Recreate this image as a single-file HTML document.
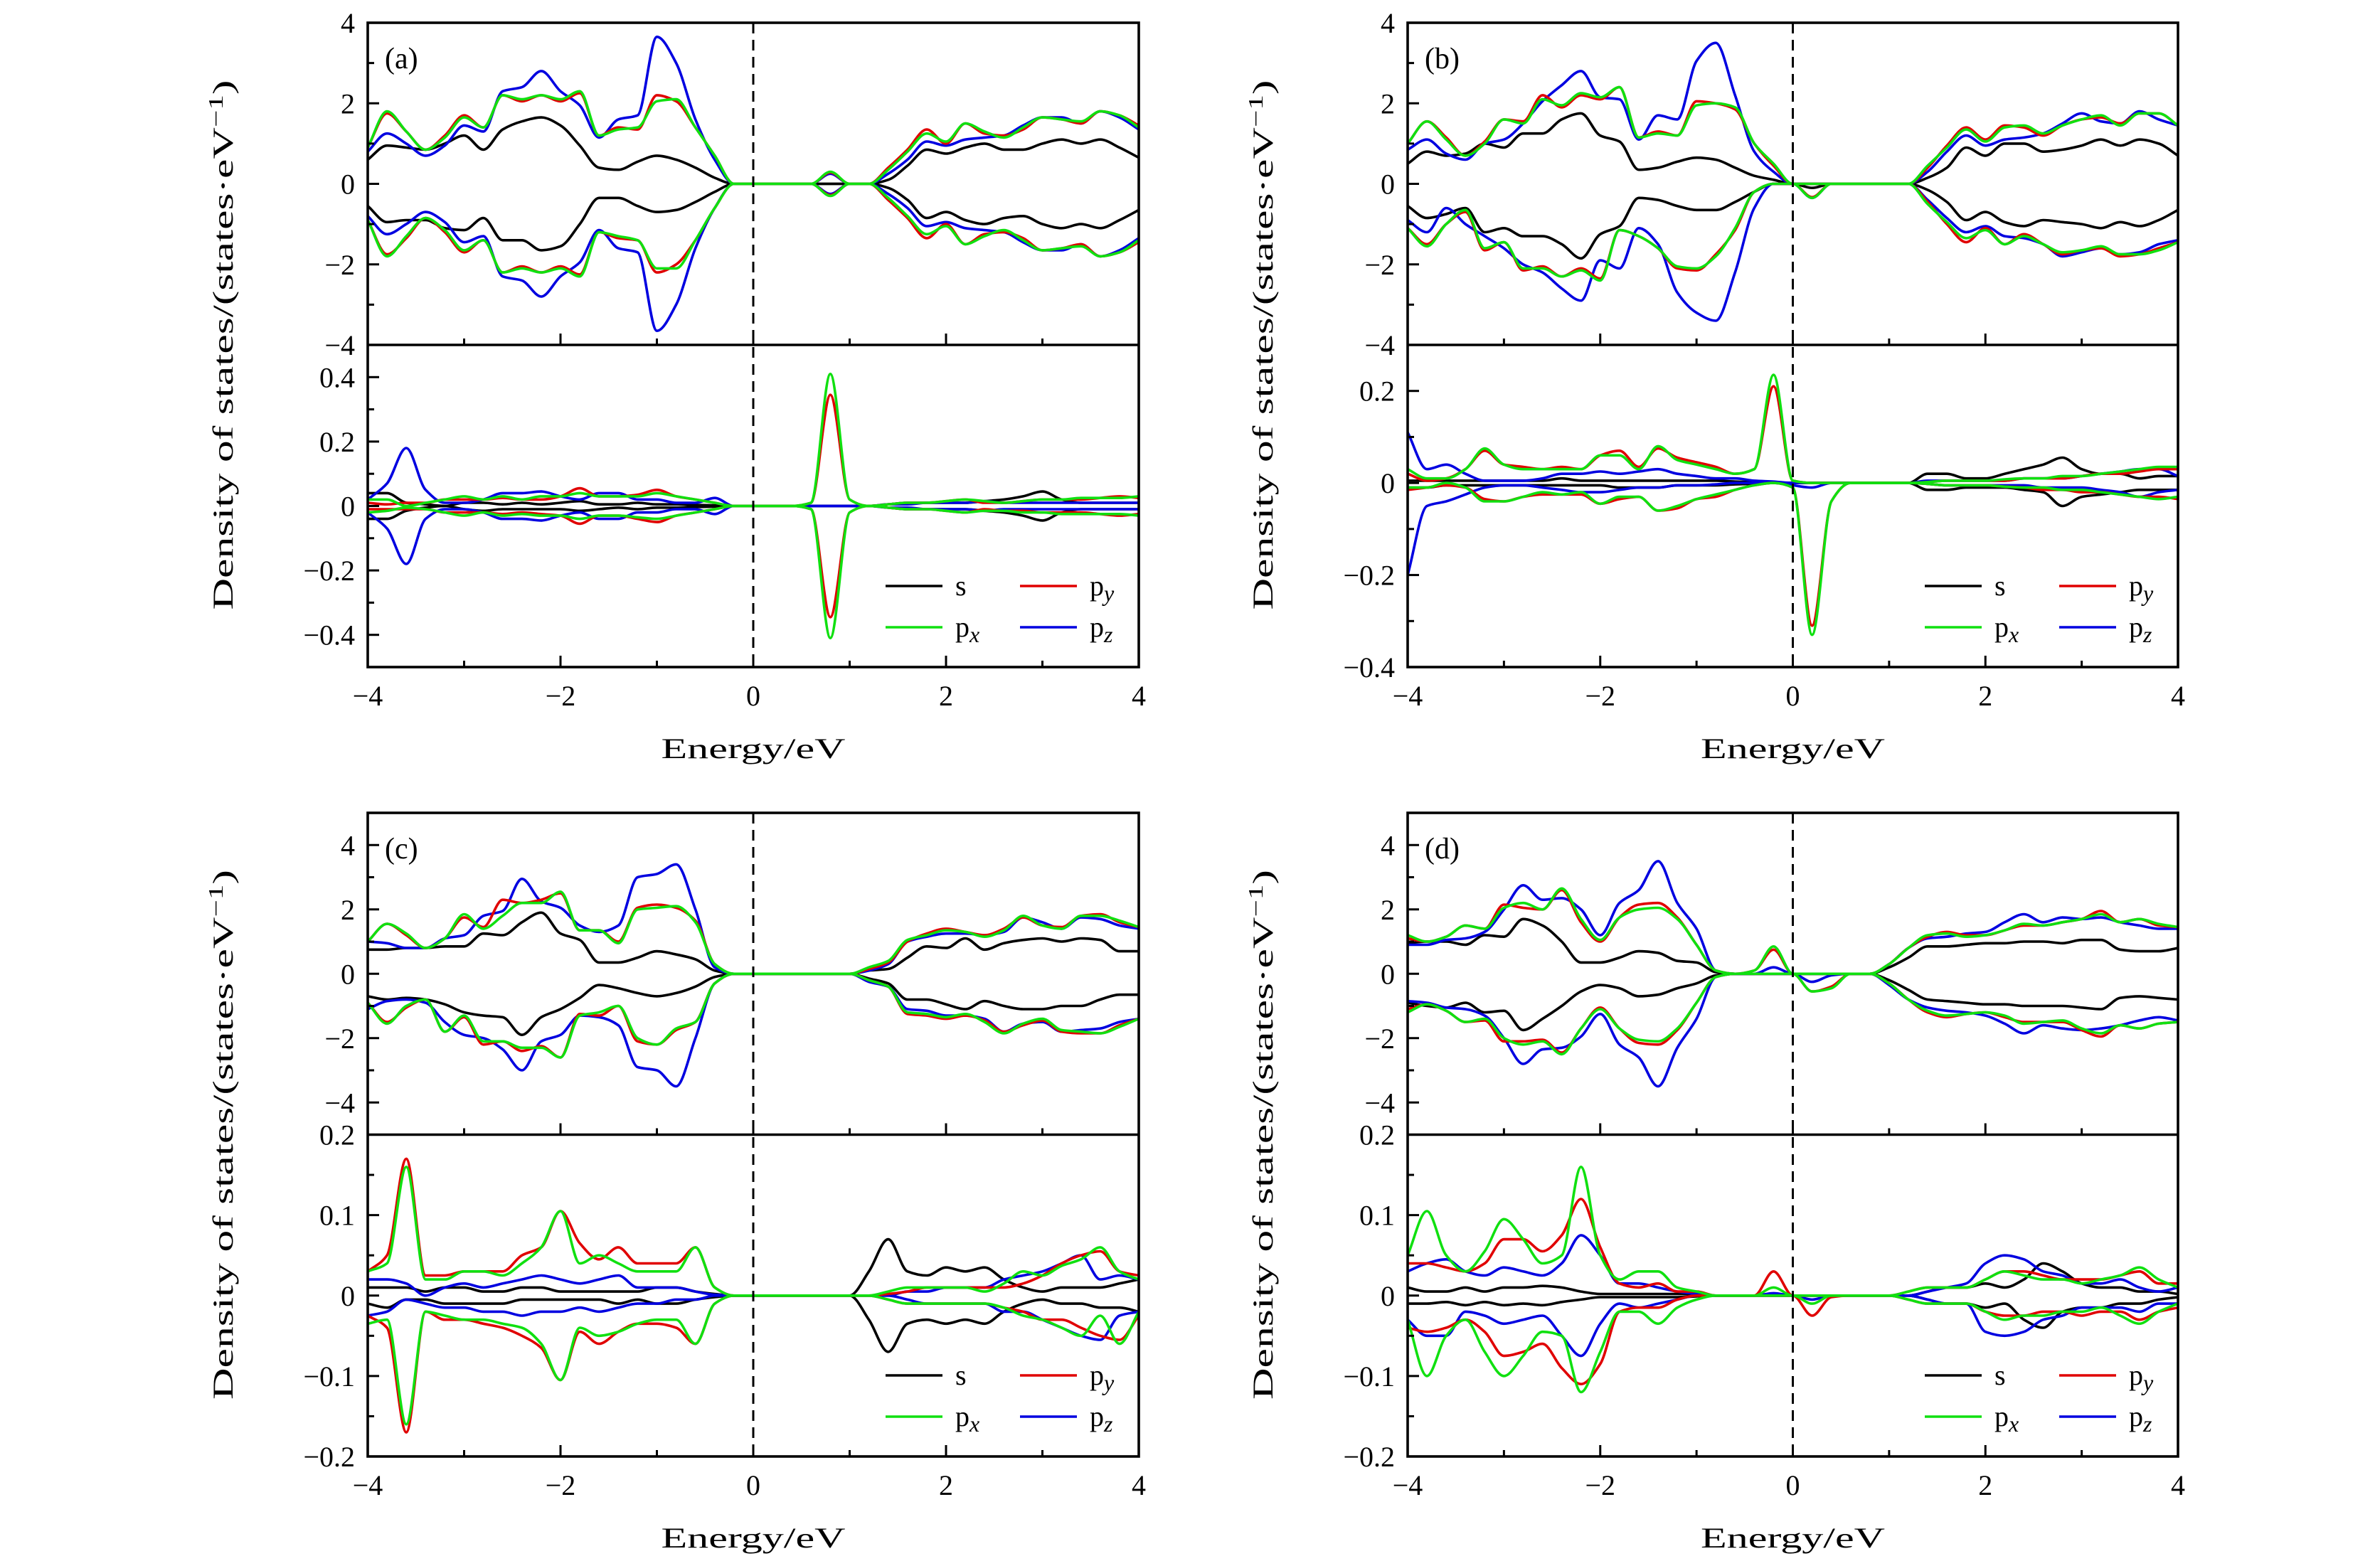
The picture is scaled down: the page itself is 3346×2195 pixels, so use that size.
<!DOCTYPE html>
<html><head><meta charset="utf-8"><style>
html,body{margin:0;padding:0;background:#fff}
svg{display:block}
text{font-family:"Liberation Serif",serif;fill:#000}
</style></head><body>
<svg id="chart" width="3346" height="2195" viewBox="0 0 3346 2195" xmlns="http://www.w3.org/2000/svg"></svg>
<script>
// energy grid (eV)
const energies = [-4,-3.8,-3.6,-3.4,-3.2,-3,-2.8,-2.6,-2.4,-2.2,-2,-1.8,-1.6,-1.4,-1.2,-1,-0.8,-0.6,-0.4,-0.2,0,0.2,0.4,0.6,0.8,1,1.2,1.4,1.6,1.8,2,2.2,2.4,2.6,2.8,3,3.2,3.4,3.6,3.8,4];
const xTickValues = [-4,-2,0,2,4];
const xTickLabels = ["−4","−2","0","2","4"];
const seriesNames = ["s","py","px","pz"];

// ---- panel (a) top ----
const aTopSUp  = [0.6,0.95,0.9,0.85,1.0,1.2,0.85,1.35,1.55,1.65, 1.45,0.95,0.4,0.35,0.55,0.7,0.6,0.4,0.15,0, 0, 0,0,0,0,0,0,0.1,0.45,0.85,0.75, 0.9,1.0,0.85,0.85,1.0,1.1,1.0,1.1,0.9,0.65];
const aTopPxUp = [0.9,1.8,1.3,0.85,1.15,1.65,1.4,2.2,2.1,2.2, 2.1,2.3,1.2,1.35,1.4,2.05,2.1,1.4,0.7,0, 0, 0,0,0,0.3,0,0,0.35,0.8,1.25,1.05, 1.5,1.3,1.15,1.4,1.65,1.6,1.55,1.8,1.7,1.4];
const aTopPyUp = [0.9,1.75,1.3,0.85,1.2,1.7,1.4,2.2,2.05,2.2, 2.05,2.25,1.2,1.4,1.35,2.2,2.05,1.4,0.7,0, 0, 0,0,0,0.28,0,0,0.4,0.85,1.35,1.0, 1.5,1.25,1.2,1.35,1.65,1.6,1.5,1.8,1.7,1.45];
const aTopPzUp = [0.8,1.25,1.0,0.7,0.95,1.45,1.3,2.3,2.4,2.8, 2.3,1.95,1.15,1.6,1.7,3.65,3.0,1.6,0.6,0, 0, 0,0,0,0.25,0,0,0.25,0.6,1.05,0.95, 1.1,1.15,1.2,1.45,1.65,1.65,1.5,1.8,1.65,1.35];
const aTopSDn  = [-0.55,-0.95,-0.9,-0.9,-1.1,-1.15,-0.85,-1.4,-1.4,-1.65, -1.55,-1.0,-0.35,-0.35,-0.55,-0.7,-0.65,-0.45,-0.2,0, 0, 0,0,0,0,0,0,-0.1,-0.4,-0.85,-0.7, -0.9,-1.0,-0.85,-0.8,-1.0,-1.1,-1.0,-1.1,-0.9,-0.65];
const aTopPxDn = [-0.9,-1.8,-1.3,-0.85,-1.15,-1.65,-1.4,-2.2,-2.1,-2.2, -2.1,-2.3,-1.2,-1.3,-1.4,-2.1,-2.1,-1.4,-0.6,0, 0, 0,0,0,-0.3,0,0,-0.35,-0.8,-1.25,-1.05, -1.5,-1.3,-1.15,-1.4,-1.65,-1.6,-1.55,-1.8,-1.7,-1.4];
const aTopPyDn = [-0.9,-1.75,-1.35,-0.85,-1.2,-1.7,-1.4,-2.2,-2.05,-2.2, -2.05,-2.25,-1.2,-1.35,-1.4,-2.2,-2.0,-1.4,-0.6,0, 0, 0,0,0,-0.28,0,0,-0.4,-0.85,-1.35,-1.0, -1.5,-1.25,-1.2,-1.35,-1.65,-1.6,-1.5,-1.8,-1.7,-1.45];
const aTopPzDn = [-0.8,-1.25,-1.0,-0.7,-0.95,-1.45,-1.3,-2.3,-2.4,-2.8, -2.3,-1.95,-1.15,-1.6,-1.7,-3.65,-3.0,-1.6,-0.6,0, 0, 0,0,0,-0.25,0,0,-0.25,-0.6,-1.05,-0.95, -1.1,-1.15,-1.2,-1.45,-1.65,-1.65,-1.5,-1.8,-1.65,-1.35];
// ---- panel (a) bottom ----
const aBotSUp  = [0.04,0.04,0.01,0.005,0,0.01,0.01,0.005,0.01,0.005, 0.01,0.015,0.005,0.005,0.01,0.005,0.005,0.003,0.002,0, 0, 0,0,0,0,0,0,0.005,0.01,0.01,0.01, 0.01,0.015,0.02,0.03,0.045,0.02,0.01,0.01,0.01,0.01];
const aBotPxUp = [0.02,0.02,0,0.01,0.02,0.03,0.02,0.03,0.02,0.03, 0.03,0.04,0.03,0.03,0.03,0.04,0.03,0.02,0.01,0, 0, 0,0,0.01,0.41,0.02,0,0.005,0.01,0.01,0.015, 0.02,0.015,0.01,0.015,0.02,0.02,0.025,0.025,0.025,0.03];
const aBotPyUp = [0.01,0.005,0.01,0.01,0.02,0.02,0.02,0.025,0.02,0.02, 0.03,0.055,0.03,0.03,0.035,0.05,0.03,0.02,0.01,0, 0, 0,0,0.01,0.345,0.02,0,0.005,0.01,0.01,0.015, 0.02,0.01,0.01,0.015,0.02,0.02,0.02,0.025,0.03,0.025];
const aBotPzUp = [0.02,0.07,0.18,0.05,0.01,0.01,0.02,0.04,0.04,0.045, 0.03,0.02,0.04,0.04,0.02,0.02,0.01,0.01,0.025,0, 0, 0,0,0,0,0,0,0.005,0.005,0.01,0.01, 0.01,0.015,0.01,0.01,0.01,0.01,0.01,0.01,0.01,0.01];
const aBotSDn  = [-0.04,-0.04,-0.015,-0.005,0,-0.01,-0.015,-0.01,-0.01,-0.01, -0.01,-0.015,-0.01,-0.005,-0.01,-0.005,-0.005,-0.003,-0.002,0, 0, 0,0,0,0,0,0,-0.005,-0.01,-0.01,-0.01, -0.01,-0.015,-0.02,-0.03,-0.045,-0.02,-0.01,-0.01,-0.01,-0.01];
const aBotPxDn = [-0.02,-0.015,-0.005,-0.01,-0.02,-0.03,-0.02,-0.03,-0.025,-0.03, -0.03,-0.04,-0.03,-0.03,-0.035,-0.04,-0.03,-0.02,-0.01,0, 0, 0,0,-0.01,-0.41,-0.02,0,-0.005,-0.01,-0.01,-0.015, -0.02,-0.015,-0.015,-0.02,-0.02,-0.025,-0.025,-0.025,-0.025,-0.03];
const aBotPyDn = [-0.01,-0.01,-0.01,-0.01,-0.02,-0.02,-0.02,-0.025,-0.02,-0.025, -0.03,-0.055,-0.03,-0.03,-0.04,-0.05,-0.03,-0.02,-0.01,0, 0, 0,0,-0.01,-0.345,-0.02,0,-0.005,-0.01,-0.01,-0.015, -0.02,-0.01,-0.015,-0.015,-0.02,-0.02,-0.02,-0.025,-0.03,-0.025];
const aBotPzDn = [-0.02,-0.07,-0.18,-0.04,-0.01,-0.01,-0.02,-0.04,-0.04,-0.045, -0.03,-0.02,-0.04,-0.04,-0.02,-0.02,-0.01,-0.01,-0.025,0, 0, 0,0,0,0,0,0,-0.005,-0.005,-0.01,-0.01, -0.01,-0.015,-0.01,-0.01,-0.01,-0.01,-0.01,-0.01,-0.01,-0.01];
// ---- panel (b) top ----
const bTopSUp  = [0.5,0.8,0.7,0.75,1.0,0.9,1.25,1.25,1.6,1.75, 1.2,1.05,0.35,0.4,0.55,0.65,0.6,0.4,0.2,0.1, 0, 0,0,0,0,0,0,0.15,0.4,0.9,0.7, 1.0,1.0,0.8,0.85,0.95,1.1,0.95,1.1,1.0,0.7];
const bTopPxUp = [1.0,1.55,1.1,0.7,1.0,1.6,1.5,2.1,1.95,2.25, 2.15,2.4,1.15,1.25,1.2,1.95,2.0,1.9,1.0,0.5, 0, 0,0,0,0,0,0,0.45,0.9,1.35,1.05, 1.4,1.45,1.25,1.45,1.6,1.7,1.45,1.75,1.75,1.45];
const bTopPyUp = [1.0,1.55,1.15,0.7,1.05,1.6,1.55,2.2,1.9,2.2, 2.1,2.4,1.15,1.3,1.2,2.05,2.0,1.85,1.0,0.45, 0, 0,0,0,0,0,0,0.4,0.95,1.4,1.1, 1.45,1.4,1.2,1.45,1.6,1.65,1.5,1.75,1.75,1.45];
const bTopPzUp = [0.85,1.1,0.75,0.6,1.0,1.1,1.5,2.05,2.45,2.8, 2.15,2.1,1.1,1.7,1.6,3.05,3.5,2.2,0.8,0.3, 0, 0,0,0,0,0,0,0.3,0.8,1.2,0.95, 1.1,1.15,1.25,1.5,1.75,1.55,1.5,1.8,1.6,1.45];
const bTopSDn  = [-0.55,-0.85,-0.75,-0.6,-1.2,-1.1,-1.3,-1.3,-1.5,-1.85, -1.25,-1.05,-0.35,-0.4,-0.55,-0.65,-0.65,-0.45,-0.2,0, 0, -0.1,0,0,0,0,0,-0.15,-0.45,-0.9,-0.7, -0.95,-1.05,-0.9,-0.95,-1.0,-1.1,-0.95,-1.05,-0.9,-0.65];
const bTopPxDn = [-1.1,-1.55,-1.0,-0.65,-1.6,-1.45,-2.1,-2.1,-2.3,-2.15, -2.4,-1.15,-1.3,-1.6,-2.05,-2.1,-1.8,-1.1,-0.2,0, 0, -0.35,0,0,0,0,0,-0.5,-0.95,-1.35,-1.15, -1.5,-1.3,-1.5,-1.7,-1.65,-1.55,-1.75,-1.75,-1.65,-1.45];
const bTopPyDn = [-1.1,-1.5,-1.0,-0.7,-1.65,-1.45,-2.15,-2.05,-2.3,-2.1, -2.35,-1.15,-1.3,-1.6,-2.1,-2.15,-1.75,-1.15,-0.2,0, 0, -0.33,0,0,0,0,0,-0.45,-1.0,-1.45,-1.1, -1.5,-1.25,-1.5,-1.75,-1.65,-1.6,-1.8,-1.75,-1.6,-1.45];
const bTopPzDn = [-0.9,-1.2,-0.6,-1.0,-1.3,-1.6,-2.0,-2.2,-2.6,-2.9, -1.9,-2.1,-1.1,-1.5,-2.7,-3.2,-3.4,-2.2,-0.6,0, 0, -0.35,0,0,0,0,0,-0.4,-0.85,-1.2,-1.05, -1.3,-1.35,-1.5,-1.8,-1.7,-1.6,-1.75,-1.7,-1.5,-1.4];
// ---- panel (b) bottom ----
const bBotSUp  = [0.005,0.005,0.005,0.005,0.005,0.005,0.005,0.005,0.01,0.005, 0.005,0.005,0.005,0.005,0.005,0.005,0.005,0.003,0.002,0.001, 0, 0,0,0,0,0,0,0.02,0.02,0.01,0.01, 0.02,0.03,0.04,0.055,0.03,0.02,0.02,0.01,0.015,0.015];
const bBotPxUp = [0.03,0.01,0.01,0.03,0.075,0.04,0.03,0.03,0.03,0.03, 0.06,0.06,0.03,0.08,0.05,0.04,0.03,0.02,0.03,0.235, 0.005, 0,0,0,0,0,0,0.002,0.005,0.005,0.005, 0.008,0.01,0.01,0.015,0.015,0.02,0.025,0.03,0.035,0.035];
const bBotPyUp = [0.02,0.005,0.01,0.03,0.07,0.04,0.035,0.03,0.035,0.03, 0.06,0.07,0.035,0.075,0.055,0.045,0.035,0.02,0.03,0.21, 0.005, 0,0,0,0,0,0,0.002,0.005,0.005,0.005, 0.005,0.01,0.01,0.01,0.015,0.02,0.02,0.025,0.03,0.03];
const bBotPzUp = [0.11,0.03,0.04,0.02,0.005,0.005,0.005,0.01,0.02,0.02, 0.025,0.02,0.025,0.03,0.02,0.015,0.01,0.01,0.005,0.003, 0, 0,0,0,0,0,0,0.005,0.005,0.005,0.005, 0.005,0.01,0.01,0.01,0.015,0.02,0.025,0.03,0.03,0.015];
const bBotSDn  = [-0.01,-0.01,-0.005,-0.005,-0.005,-0.005,-0.005,-0.005,-0.005,-0.005, -0.005,-0.01,-0.01,-0.01,-0.005,-0.005,-0.005,-0.003,-0.002,0, 0, 0,0,0,0,0,0,-0.015,-0.015,-0.01,-0.01, -0.01,-0.015,-0.02,-0.05,-0.03,-0.025,-0.02,-0.015,-0.015,-0.015];
const bBotPxDn = [-0.01,-0.01,0,-0.01,-0.04,-0.04,-0.03,-0.02,-0.025,-0.02, -0.045,-0.03,-0.03,-0.06,-0.05,-0.035,-0.025,-0.015,-0.005,0, -0.01, -0.33,-0.04,0,0,0,0,-0.002,-0.005,-0.005,-0.005, -0.008,-0.01,-0.01,-0.015,-0.015,-0.02,-0.025,-0.03,-0.035,-0.03];
const bBotPyDn = [-0.015,-0.01,-0.005,-0.01,-0.035,-0.04,-0.03,-0.025,-0.025,-0.025, -0.045,-0.035,-0.03,-0.06,-0.055,-0.035,-0.03,-0.015,-0.005,0, -0.01, -0.31,-0.04,0,0,0,0,-0.002,-0.005,-0.005,-0.005, -0.008,-0.01,-0.015,-0.015,-0.02,-0.02,-0.025,-0.03,-0.03,-0.035];
const bBotPzDn = [-0.2,-0.05,-0.04,-0.025,-0.01,-0.005,-0.005,-0.01,-0.015,-0.02, -0.02,-0.015,-0.01,-0.01,-0.005,-0.005,-0.003,0,0,0, -0.005, -0.01,0,0,0,0,0,-0.002,-0.005,-0.005,-0.005, -0.005,-0.005,-0.01,-0.01,-0.01,-0.015,-0.02,-0.03,-0.02,-0.015];
// ---- panel (c) top ----
const cTopSUp  = [0.75,0.75,0.8,0.8,0.85,0.85,1.25,1.2,1.6,1.9, 1.25,1.05,0.35,0.35,0.5,0.7,0.6,0.45,0.1,0, 0, 0,0,0,0,0,0.1,0.15,0.5,0.85,0.8, 1.1,0.75,0.95,1.05,1.1,1.0,1.1,1.05,0.7,0.7];
const cTopPxUp = [1.0,1.55,1.25,0.8,1.1,1.85,1.4,1.8,2.2,2.2, 2.55,1.35,1.35,0.95,2.0,2.05,2.1,1.6,0.3,0, 0, 0,0,0,0,0,0.2,0.4,1.05,1.2,1.35, 1.3,1.15,1.35,1.8,1.5,1.4,1.8,1.8,1.65,1.45];
const cTopPyUp = [1.0,1.55,1.2,0.8,1.1,1.75,1.45,2.3,2.2,2.3, 2.5,1.35,1.35,1.0,2.05,2.15,2.05,1.65,0.3,0, 0, 0,0,0,0,0,0.15,0.35,1.0,1.25,1.4, 1.3,1.2,1.4,1.75,1.5,1.45,1.8,1.85,1.6,1.45];
const cTopPzUp = [1.0,0.95,0.8,0.8,1.1,1.2,1.8,1.95,2.95,2.25, 2.05,1.5,1.3,1.5,3.0,3.1,3.4,2.0,0.2,0, 0, 0,0,0,0,0,0.1,0.3,1.0,1.15,1.25, 1.25,1.2,1.3,1.75,1.6,1.4,1.75,1.7,1.5,1.4];
const cTopSDn  = [-0.7,-0.8,-0.75,-0.8,-0.95,-1.2,-1.3,-1.35,-1.9,-1.35, -1.1,-0.75,-0.35,-0.45,-0.6,-0.7,-0.6,-0.4,-0.1,0, 0, 0,0,0,0,0,-0.15,-0.3,-0.8,-0.8,-0.95, -1.1,-0.85,-1.0,-1.1,-1.1,-1.0,-1.0,-0.8,-0.65,-0.65];
const cTopPxDn = [-0.9,-1.55,-1.0,-0.8,-1.8,-1.3,-2.1,-2.1,-2.3,-2.3, -2.6,-1.3,-1.2,-1.0,-2.0,-2.2,-1.7,-1.5,-0.3,0, 0, 0,0,0,0,0,-0.2,-0.4,-1.2,-1.25,-1.35, -1.25,-1.5,-1.85,-1.55,-1.4,-1.75,-1.8,-1.85,-1.65,-1.4];
const cTopPyDn = [-0.9,-1.5,-1.05,-0.8,-1.8,-1.35,-2.2,-2.1,-2.4,-2.25, -2.6,-1.25,-1.3,-1.0,-2.1,-2.2,-1.75,-1.5,-0.3,0, 0, 0,0,0,0,0,-0.2,-0.4,-1.25,-1.3,-1.4, -1.3,-1.45,-1.8,-1.6,-1.45,-1.8,-1.85,-1.85,-1.6,-1.4];
const cTopPzDn = [-1.1,-0.85,-0.8,-0.9,-1.5,-1.9,-2.0,-2.35,-3.0,-2.1, -1.9,-1.3,-1.35,-1.6,-2.9,-3.0,-3.5,-2.0,-0.3,0, 0, 0,0,0,0,0,-0.25,-0.4,-1.1,-1.15,-1.3, -1.3,-1.4,-1.8,-1.55,-1.5,-1.8,-1.75,-1.7,-1.5,-1.4];
// ---- panel (c) bottom ----
const cBotSUp  = [0.01,0.01,0.01,0.005,0.01,0.01,0.005,0.005,0.01,0.01, 0.005,0.005,0.005,0.005,0.005,0.01,0.01,0.005,0.002,0, 0, 0,0,0,0,0,0.03,0.07,0.03,0.025,0.035, 0.03,0.035,0.02,0.01,0.005,0.01,0.01,0.01,0.015,0.02];
const cBotPxUp = [0.03,0.04,0.16,0.02,0.02,0.03,0.03,0.025,0.04,0.06, 0.105,0.04,0.05,0.04,0.03,0.03,0.03,0.06,0.01,0, 0, 0,0,0,0,0,0,0.005,0.01,0.01,0.01, 0.01,0.005,0.015,0.03,0.025,0.037,0.045,0.06,0.03,0.02];
const cBotPyUp = [0.03,0.05,0.17,0.025,0.025,0.03,0.03,0.03,0.05,0.06, 0.105,0.065,0.045,0.06,0.04,0.04,0.04,0.06,0.01,0, 0, 0,0,0,0,0,0,0.002,0.005,0.01,0.01, 0.01,0.01,0.01,0.015,0.025,0.04,0.05,0.055,0.03,0.025];
const cBotPzUp = [0.02,0.02,0.015,0,0.01,0.015,0.01,0.015,0.02,0.025, 0.02,0.015,0.02,0.025,0.01,0.01,0.01,0.005,0.001,0, 0, 0,0,0,0,0,0,0,0.005,0.005,0.01, 0.01,0.01,0.02,0.025,0.03,0.04,0.05,0.02,0.025,0.02];
const cBotSDn  = [-0.01,-0.015,-0.005,-0.005,-0.01,-0.01,-0.01,-0.01,-0.005,-0.005, -0.005,-0.005,-0.005,-0.01,-0.005,-0.01,-0.01,-0.005,-0.002,0, 0, 0,0,0,0,0,-0.03,-0.07,-0.035,-0.03,-0.035, -0.03,-0.035,-0.02,-0.01,-0.005,-0.01,-0.01,-0.015,-0.015,-0.02];
const cBotPxDn = [-0.035,-0.03,-0.16,-0.02,-0.025,-0.03,-0.03,-0.035,-0.04,-0.06, -0.105,-0.04,-0.05,-0.045,-0.035,-0.03,-0.03,-0.06,-0.01,0, 0, 0,0,0,0,0,0,-0.005,-0.01,-0.01,-0.01, -0.01,-0.01,-0.015,-0.025,-0.03,-0.04,-0.05,-0.025,-0.06,-0.02];
const cBotPyDn = [-0.025,-0.04,-0.17,-0.02,-0.03,-0.03,-0.035,-0.04,-0.05,-0.065, -0.105,-0.045,-0.06,-0.045,-0.035,-0.035,-0.04,-0.06,-0.01,0, 0, 0,0,0,0,0,0,-0.005,-0.01,-0.01,-0.01, -0.01,-0.01,-0.015,-0.02,-0.03,-0.03,-0.04,-0.05,-0.055,-0.025];
const cBotPzDn = [-0.025,-0.02,-0.005,-0.01,-0.015,-0.015,-0.02,-0.02,-0.025,-0.02, -0.02,-0.015,-0.02,-0.015,-0.01,-0.01,-0.005,-0.005,0,0, 0, 0,0,0,0,0,0,0,-0.005,-0.01,-0.01, -0.01,-0.01,-0.02,-0.02,-0.03,-0.04,-0.05,-0.055,-0.025,-0.02];
// ---- panel (d) top ----
const dTopSUp  = [0.95,1.0,1.0,0.9,1.2,1.15,1.7,1.5,1.0,0.35, 0.35,0.5,0.7,0.65,0.4,0.35,0.05,0,0,0, 0, 0,0,0,0,0.2,0.5,0.85,0.85,0.9,0.95, 0.95,1.0,1.0,0.95,1.05,1.05,0.75,0.7,0.7,0.8];
const dTopPxUp = [1.2,1.0,1.15,1.5,1.4,2.05,2.2,2.0,2.65,1.7, 1.05,1.75,2.0,2.05,1.7,0.9,0.1,0,0.1,0.85, 0, 0,0,0,0,0.3,0.8,1.2,1.25,1.15,1.2, 1.35,1.55,1.5,1.6,1.7,1.85,1.6,1.7,1.55,1.45];
const dTopPyUp = [1.1,1.0,1.15,1.5,1.4,2.15,2.05,2.0,2.6,1.6, 1.0,1.75,2.15,2.2,1.75,0.9,0.1,0,0.1,0.75, 0, 0,0,0,0,0.3,0.8,1.15,1.3,1.2,1.2, 1.35,1.5,1.5,1.6,1.7,1.95,1.6,1.7,1.5,1.45];
const dTopPzUp = [0.9,0.9,1.05,1.1,1.3,2.0,2.75,2.3,2.35,2.0, 1.2,2.2,2.6,3.5,2.2,1.4,0.1,0,0,0.2, 0, 0,0,0,0,0.3,0.8,1.1,1.15,1.25,1.3, 1.6,1.85,1.6,1.75,1.7,1.75,1.6,1.5,1.4,1.4];
const dTopSDn  = [-0.9,-1.0,-1.05,-0.9,-1.2,-1.15,-1.75,-1.4,-1.0,-0.55, -0.35,-0.45,-0.7,-0.65,-0.45,-0.3,-0.05,0,0,0, 0, 0,0,0,0,-0.2,-0.5,-0.8,-0.85,-0.9,-0.95, -0.95,-1.0,-1.0,-1.0,-1.05,-1.1,-0.75,-0.7,-0.75,-0.8];
const dTopPxDn = [-1.2,-0.95,-1.15,-1.5,-1.4,-2.0,-2.2,-2.1,-2.5,-1.7, -1.1,-1.7,-2.05,-2.1,-1.7,-0.9,-0.1,0,0,0, 0, -0.55,-0.45,0,0,-0.3,-0.8,-1.15,-1.3,-1.25,-1.2, -1.3,-1.55,-1.5,-1.45,-1.7,-1.85,-1.6,-1.7,-1.55,-1.5];
const dTopPyDn = [-1.1,-0.95,-1.15,-1.5,-1.45,-2.1,-2.1,-2.05,-2.45,-1.7, -1.05,-1.7,-2.15,-2.2,-1.75,-0.9,-0.1,0,0,0, 0, -0.55,-0.4,0,0,-0.3,-0.8,-1.2,-1.35,-1.25,-1.2, -1.35,-1.5,-1.5,-1.5,-1.75,-1.95,-1.6,-1.7,-1.55,-1.5];
const dTopPzDn = [-0.85,-0.9,-1.05,-1.1,-1.3,-2.0,-2.8,-2.35,-2.3,-1.95, -1.25,-2.2,-2.6,-3.5,-2.3,-1.4,-0.1,0,0,0, 0, -0.25,-0.05,0,0,-0.35,-0.8,-1.05,-1.15,-1.2,-1.3, -1.55,-1.85,-1.6,-1.7,-1.75,-1.7,-1.6,-1.45,-1.35,-1.45];
// ---- panel (d) bottom ----
const dBotSUp  = [0.01,0.005,0.005,0.01,0.005,0.01,0.01,0.012,0.01,0.005, 0.002,0.002,0.002,0.002,0.002,0.001,0,0,0,0, 0, 0,0,0,0,0,0,0.005,0.01,0.01,0.015, 0.01,0.02,0.04,0.03,0.015,0.01,0.01,0.005,0.005,0.002];
const dBotPxUp = [0.05,0.105,0.05,0.03,0.055,0.095,0.07,0.04,0.05,0.16, 0.05,0.02,0.03,0.03,0.01,0.005,0,0,0,0.01, 0, 0,0,0,0,0,0.005,0.01,0.01,0.01,0.02, 0.03,0.025,0.02,0.02,0.015,0.02,0.025,0.035,0.02,0.01];
const dBotPyUp = [0.04,0.04,0.035,0.03,0.04,0.07,0.07,0.055,0.075,0.12, 0.06,0.015,0.01,0.015,0.005,0.005,0,0,0,0.03, 0, 0,0,0,0,0,0.005,0.01,0.01,0.01,0.02, 0.03,0.03,0.025,0.02,0.02,0.02,0.025,0.03,0.015,0.015];
const dBotPzUp = [0.03,0.04,0.045,0.03,0.025,0.035,0.03,0.025,0.04,0.075, 0.05,0.015,0.015,0.01,0.005,0.002,0,0,0,0.003, 0, 0,0,0,0,0,0,0.005,0.01,0.015,0.04, 0.05,0.045,0.03,0.025,0.015,0.015,0.02,0.01,0.005,0.01];
const dBotSDn  = [-0.01,-0.01,-0.008,-0.012,-0.008,-0.012,-0.01,-0.012,-0.008,-0.005, -0.002,-0.002,-0.002,-0.002,-0.002,-0.001,0,0,0,0, 0, 0,0,0,0,0,0,-0.005,-0.01,-0.01,-0.015, -0.01,-0.03,-0.04,-0.02,-0.015,-0.015,-0.01,-0.01,-0.005,-0.002];
const dBotPxDn = [-0.03,-0.1,-0.05,-0.03,-0.07,-0.1,-0.075,-0.045,-0.05,-0.12, -0.07,-0.02,-0.02,-0.035,-0.015,-0.005,0,0,0,0, 0, -0.01,0,0,0,0,-0.005,-0.01,-0.01,-0.01,-0.02, -0.03,-0.025,-0.025,-0.02,-0.02,-0.015,-0.025,-0.035,-0.02,-0.01];
const dBotPyDn = [-0.04,-0.045,-0.04,-0.03,-0.045,-0.075,-0.07,-0.06,-0.09,-0.11, -0.085,-0.02,-0.015,-0.015,-0.005,0,0,0,0,0, 0, -0.025,-0.002,0,0,0,-0.005,-0.01,-0.01,-0.01,-0.02, -0.025,-0.025,-0.02,-0.02,-0.025,-0.02,-0.02,-0.03,-0.02,-0.015];
const dBotPzDn = [-0.03,-0.05,-0.05,-0.02,-0.025,-0.035,-0.03,-0.025,-0.05,-0.075, -0.035,-0.01,-0.015,-0.01,-0.005,0,0,0,0,0, 0, -0.005,0,0,0,0,0,-0.005,-0.01,-0.01,-0.045, -0.05,-0.045,-0.03,-0.025,-0.015,-0.015,-0.015,-0.02,-0.01,-0.01];

const colors = {s:"#000000", py:"#e00000", px:"#10e010", pz:"#0000e0"};
const NS = "http://www.w3.org/2000/svg";
const svg = document.getElementById("chart");

function mk(tag, attrs, parent){
  const e = document.createElementNS(NS, tag);
  for (const k in attrs) e.setAttribute(k, attrs[k]);
  (parent||svg).appendChild(e);
  return e;
}
// monotone cubic (Fritsch-Carlson) path
function smoothPath(xs, ys){
  const n = xs.length;
  const dl = [], m = new Array(n).fill(0);
  for (let i=0;i<n-1;i++) dl.push((ys[i+1]-ys[i])/(xs[i+1]-xs[i]));
  m[0]=dl[0]; m[n-1]=dl[n-2];
  for (let i=1;i<n-1;i++){
    if (dl[i-1]*dl[i] <= 0) m[i]=0;
    else m[i] = 2/(1/dl[i-1]+1/dl[i]);
  }
  let d = "M" + xs[0].toFixed(1) + "," + ys[0].toFixed(1);
  for (let i=0;i<n-1;i++){
    const h = xs[i+1]-xs[i];
    const c1x = xs[i]+h/3, c1y = ys[i]+m[i]*h/3;
    const c2x = xs[i+1]-h/3, c2y = ys[i+1]-m[i+1]*h/3;
    d += " C"+c1x.toFixed(1)+","+c1y.toFixed(1)+" "+c2x.toFixed(1)+","+c2y.toFixed(1)+" "+xs[i+1].toFixed(1)+","+ys[i+1].toFixed(1);
  }
  return d;
}

const panels = [
  {id:"a", x0:517, x1:1601, y0:32, y1:938,
   top:{min:-4,max:4,major:[4,2,0,-2,-4],labels:["4","2","0","−2","−4"],minor:[3,1,-1,-3],
        up:{s:aTopSUp,py:aTopPyUp,px:aTopPxUp,pz:aTopPzUp}, dn:{s:aTopSDn,py:aTopPyDn,px:aTopPxDn,pz:aTopPzDn}},
   bot:{min:-0.5,max:0.5,major:[0.4,0.2,0,-0.2,-0.4],labels:["0.4","0.2","0","−0.2","−0.4"],minor:[0.3,0.1,-0.1,-0.3],
        up:{s:aBotSUp,py:aBotPyUp,px:aBotPxUp,pz:aBotPzUp}, dn:{s:aBotSDn,py:aBotPyDn,px:aBotPxDn,pz:aBotPzDn}}},
  {id:"b", x0:1979, x1:3062, y0:32, y1:938,
   top:{min:-4,max:4,major:[4,2,0,-2,-4],labels:["4","2","0","−2","−4"],minor:[3,1,-1,-3],
        up:{s:bTopSUp,py:bTopPyUp,px:bTopPxUp,pz:bTopPzUp}, dn:{s:bTopSDn,py:bTopPyDn,px:bTopPxDn,pz:bTopPzDn}},
   bot:{min:-0.4,max:0.3,major:[0.2,0,-0.2,-0.4],labels:["0.2","0","−0.2","−0.4"],minor:[0.1,-0.1,-0.3],
        up:{s:bBotSUp,py:bBotPyUp,px:bBotPxUp,pz:bBotPzUp}, dn:{s:bBotSDn,py:bBotPyDn,px:bBotPxDn,pz:bBotPzDn}}},
  {id:"c", x0:517, x1:1601, y0:1143, y1:2048,
   top:{min:-5,max:5,major:[4,2,0,-2,-4],labels:["4","2","0","−2","−4"],minor:[3,1,-1,-3],
        up:{s:cTopSUp,py:cTopPyUp,px:cTopPxUp,pz:cTopPzUp}, dn:{s:cTopSDn,py:cTopPyDn,px:cTopPxDn,pz:cTopPzDn}},
   bot:{min:-0.2,max:0.2,major:[0.2,0.1,0,-0.1,-0.2],labels:["0.2","0.1","0","−0.1","−0.2"],minor:[0.15,0.05,-0.05,-0.15],
        up:{s:cBotSUp,py:cBotPyUp,px:cBotPxUp,pz:cBotPzUp}, dn:{s:cBotSDn,py:cBotPyDn,px:cBotPxDn,pz:cBotPzDn}}},
  {id:"d", x0:1979, x1:3062, y0:1143, y1:2048,
   top:{min:-5,max:5,major:[4,2,0,-2,-4],labels:["4","2","0","−2","−4"],minor:[3,1,-1,-3],
        up:{s:dTopSUp,py:dTopPyUp,px:dTopPxUp,pz:dTopPzUp}, dn:{s:dTopSDn,py:dTopPyDn,px:dTopPxDn,pz:dTopPzDn}},
   bot:{min:-0.2,max:0.2,major:[0.2,0.1,0,-0.1,-0.2],labels:["0.2","0.1","0","−0.1","−0.2"],minor:[0.15,0.05,-0.05,-0.15],
        up:{s:dBotSUp,py:dBotPyUp,px:dBotPxUp,pz:dBotPzUp}, dn:{s:dBotSDn,py:dBotPyDn,px:dBotPxDn,pz:dBotPzDn}}}
];

const defs = mk("defs", {});
panels.forEach(p=>{
  const g = mk("g", {});
  
  
  const xScale = e => p.x0 + (e + 4) / 8 * (p.x1 - p.x0);
  const ym = (p.y0 + p.y1) / 2;
  const subs = [["top", p.top, p.y0, ym], ["bottom", p.bot, ym, p.y1]];
  subs.forEach(([name, sp, sy0, sy1])=>{
    const yScale = v => sy1 - (v - sp.min) / (sp.max - sp.min) * (sy1 - sy0);
    const sg = mk("g", {}, g);
    
    
    const cid = "clip-" + p.id + "-" + name;
    const cp = mk("clipPath", {id: cid}, defs);
    mk("rect", {x:p.x0, y:sy0, width:p.x1-p.x0, height:sy1-sy0}, cp);
    const lg = mk("g", {"clip-path":"url(#"+cid+")"}, sg);
    ["s","pz","py","px"].forEach(k=>{
      [["up", sp.up[k]], ["down", sp.dn[k]]].forEach(([spin, arr])=>{
        const xs = energies.map(xScale), ys = arr.map(yScale);
        const path = mk("path", {d: smoothPath(xs, ys), fill:"none", stroke:colors[k], "stroke-width":3.6, "stroke-linejoin":"round"}, lg);
        
        
      });
    });
    sp.major.forEach((v, i)=>{
      const y = yScale(v);
      if (Math.abs(y - sy0) > 1 && Math.abs(y - sy1) > 1) mk("line", {x1:p.x0, x2:p.x0+16, y1:y, y2:y, stroke:"#000", "stroke-width":3}, sg);
      const t = mk("text", {x:p.x0-18, y:y+14, "font-size":40, "text-anchor":"end"}, sg);
      t.textContent = sp.labels[i];
      
      
    });
    sp.minor.forEach(v=>{
      const y = yScale(v);
      mk("line", {x1:p.x0, x2:p.x0+9, y1:y, y2:y, stroke:"#000", "stroke-width":3}, sg);
    });
    [-3,-2,-1,0,1,2,3].forEach(e=>{
      const x = xScale(e);
      const len = (e % 2 === 0) ? 16 : 9;
      mk("line", {x1:x, x2:x, y1:sy1, y2:sy1-len, stroke:"#000", "stroke-width":3}, sg);
    });
  });
  const fl = mk("line", {x1:xScale(0), x2:xScale(0), y1:p.y0, y2:p.y1, stroke:"#000", "stroke-width":3, "stroke-dasharray":"15,9"}, g);
  
  
  const fr = mk("rect", {x:p.x0, y:p.y0, width:p.x1-p.x0, height:p.y1-p.y0, fill:"none", stroke:"#000", "stroke-width":3.6}, g);
  
  
  mk("line", {x1:p.x0, x2:p.x1, y1:ym, y2:ym, stroke:"#000", "stroke-width":3.6}, g);
  xTickValues.forEach((v,i)=>{
    const t = mk("text", {x:xScale(v), y:p.y1+54, "font-size":40, "text-anchor":"middle"}, g);
    t.textContent = xTickLabels[i];
    
    
  });
  const xt = mk("text", {x:(p.x0+p.x1)/2, y:p.y1+128, "font-size":40, "text-anchor":"middle", textLength:259, lengthAdjust:"spacingAndGlyphs"}, g);
  xt.textContent = "Energy/eV";
  
  
  const yt = mk("text", {x:0, y:0, "font-size":40, "text-anchor":"middle", textLength:745, lengthAdjust:"spacingAndGlyphs", transform:"translate("+(p.x0-190)+","+ym+") rotate(-90)"}, g);
  yt.innerHTML = 'Density of states/(states·eV<tspan dy="-14" font-size="28">−1</tspan><tspan dy="14">)</tspan>';
  
  
  const pl = mk("text", {x:p.x0+24, y:p.y0+64, "font-size":42}, g);
  pl.textContent = "(" + p.id + ")";
  
  
  const lgG = mk("g", {}, g);
  
  
  const entries = [["s","s",0,0],["py","p",1,0],["px","p",0,1],["pz","p",1,1]];
  const subs2 = {py:"y", px:"x", pz:"z"};
  entries.forEach(([k, base, col, row])=>{
    const lx = col === 0 ? p.x1-356 : p.x1-167;
    const ly = p.y1 - 114 + row*58;
    const ent = mk("g", {}, lgG);
    
    
    mk("line", {x1:lx, x2:lx+80, y1:ly, y2:ly, stroke:colors[k], "stroke-width":3.6}, ent);
    const t = mk("text", {x:lx+98, y:ly+13, "font-size":40}, ent);
    if (k === "s") t.textContent = "s";
    else t.innerHTML = 'p<tspan font-style="italic" font-size="32" dy="8">' + subs2[k] + '</tspan>';
  });
});
</script>
</body></html>
